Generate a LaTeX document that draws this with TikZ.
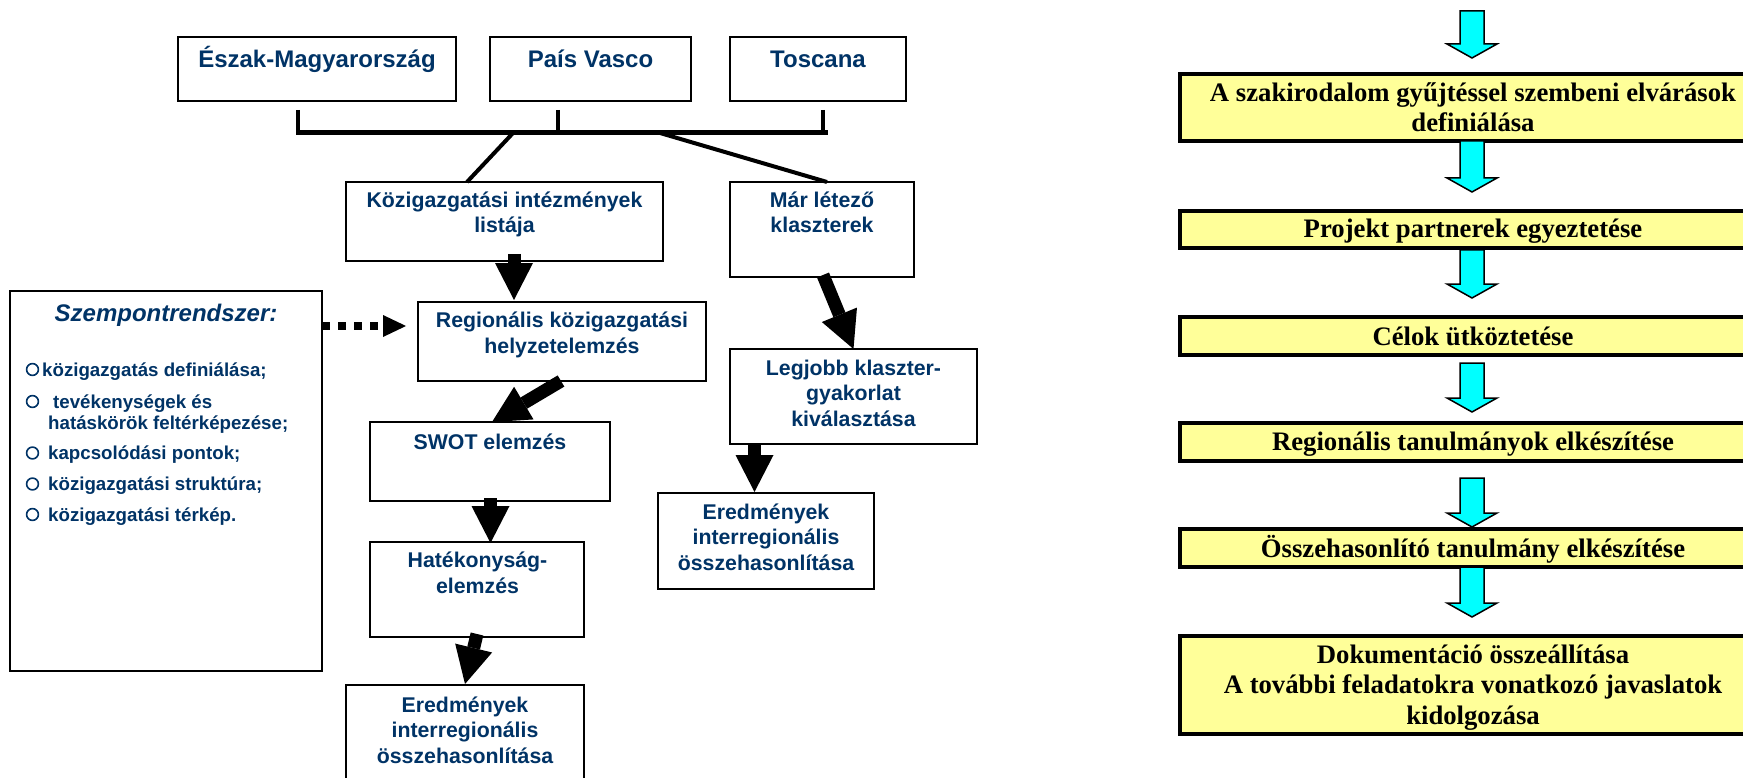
\documentclass[tikz,border=0pt]{standalone}
\usepackage{fontspec}
\setmainfont{Liberation Sans}
\newfontfamily\arialf{Liberation Sans}
\newfontfamily\timesf{Liberation Serif}
\usetikzlibrary{arrows.meta,calc}
\definecolor{navy}{RGB}{0,51,102}
\definecolor{ylw}{RGB}{255,255,153}
\definecolor{cyn}{RGB}{0,255,255}
\newcommand\mkbox[6]{%
  \pgfmathsetmacro\bw{#5-#3}\pgfmathsetmacro\bh{#6-#4}%
  \node[#1, minimum width=\bw pt, minimum height=\bh pt] (#2) at ({(#3+#5)/2},{(#4+#6)/2}) {};}
\newcommand\cyarr[2]{%
  \draw[cyarrow] let \p1=(#1), \p2=(#2) in
  (\x1-12pt,\y1) -- (\x1+12pt,\y1) -- (\x1+12pt,\y2+14pt) -- (\x1+25pt,\y2+14pt)
  -- (\x1,\y2) -- (\x1-25pt,\y2+14pt) -- (\x1-12pt,\y2+14pt) -- cycle;}
\tikzset{
  lbox/.style={rectangle, draw=black, line width=2.2pt, fill=white, inner sep=0pt, outer sep=0pt},
  rbox/.style={rectangle, draw=black, line width=3.2pt, fill=ylw, inner sep=0pt, outer sep=0pt},
  toptxt/.style={font=\arialf\bfseries\fontsize{24}{28}\selectfont, text=navy, inner sep=0pt, anchor=base},
  intxt/.style={font=\arialf\bfseries\fontsize{21.3}{25.3}\selectfont, text=navy, align=center, inner sep=0pt, anchor=base},
  ttl/.style={font=\arialf\bfseries\itshape\fontsize{24}{28}\selectfont, text=navy, inner sep=0pt, anchor=base},
  itm/.style={font=\arialf\bfseries\fontsize{18.7}{21}\selectfont, text=navy, align=left, inner sep=0pt, anchor=base west},
  bul/.style={draw=navy, line width=1.6pt},
  rtxt/.style={font=\timesf\bfseries\fontsize{26.7}{30.5}\selectfont, text=black, align=center, inner sep=0pt, anchor=base},
  blk/.style={draw=black, line width=13pt, -{Triangle[length=37pt,width=38pt,line width=0pt]}},
  dotarr/.style={draw=black, line width=8pt, dash pattern=on 7.5pt off 8.5pt, -{Triangle[length=23pt,width=22pt,line width=0pt]}},
  tickline/.style={draw=black, line width=4.5pt},
  barline/.style={draw=black, line width=5pt, line cap=rect},
  diagline/.style={draw=black, line width=4pt},
  cyarrow/.style={draw=black, line width=1.5pt, fill=cyn, line join=miter}
}
\begin{document}
\begin{tikzpicture}[x=1pt,y=-1pt]
\useasboundingbox (0,0) rectangle (1743,778);
\fill[white] (0,0) rectangle (1743,778);
\clip (0,0) rectangle (1743,778);

% ---------- left diagram boxes ----------
\mkbox{lbox}{eszak}{178}{37}{456}{101}
\mkbox{lbox}{pais}{490}{37}{691}{101}
\mkbox{lbox}{tosc}{730}{37}{906}{101}
\mkbox{lbox}{kozig}{346}{182}{663}{261}
\mkbox{lbox}{mar}{730}{182}{914}{277}
\mkbox{lbox}{szemp}{10}{291}{322}{671}
\mkbox{lbox}{reg}{418}{302}{706}{381}
\mkbox{lbox}{legj}{730}{349}{977}{444}
\mkbox{lbox}{swot}{370}{422}{610}{501}
\mkbox{lbox}{eredr}{658}{493}{874}{589}
\mkbox{lbox}{hat}{370}{542}{584}{637}
\mkbox{lbox}{eredl}{346}{685}{584}{820}

% ---------- left texts (base = last line) ----------
\node[toptxt] (t-eszak) at (317,68) {Észak-Magyarország};
\node[toptxt] (t-pais) at (590.5,68) {País Vasco};
\node[toptxt] (t-tosc) at (818,68) {Toscana};
\node[intxt] (t-kozig) at (504.5,233) {Közigazgatási intézmények\\listája};
\node[intxt] (t-mar) at (822,233) {Már létező\\klaszterek};
\node[intxt] (t-reg) at (562,353) {Regionális közigazgatási\\helyzetelemzés};
\node[intxt] (t-legj) at (853.5,426) {Legjobb klaszter-\\gyakorlat\\kiválasztása};
\node[intxt] (t-swot) at (490,449) {SWOT elemzés};
\node[intxt] (t-eredr) at (766,570) {Eredmények\\interregionális\\összehasonlítása};
\node[intxt] (t-hat) at (477.5,593) {Hatékonyság-\\elemzés};
\node[intxt] (t-eredl) at (465,763) {Eredmények\\interregionális\\összehasonlítása};

% ---------- Szempontrendszer ----------
\node[ttl] (t-szemp) at (166,321) {Szempontrendszer:};
\draw[bul] (32.5,369.5) circle[radius=5.9pt];
\draw[bul] (32.5,401.5) circle[radius=5.9pt];
\draw[bul] (32.5,453) circle[radius=5.9pt];
\draw[bul] (32.5,484) circle[radius=5.9pt];
\draw[bul] (32.5,514.5) circle[radius=5.9pt];
\node[itm] (i1) at (42,376) {közigazgatás definiálása;};
\node[itm] (i2) at (48,429) {\hspace*{5pt}tevékenységek és\\hatáskörök feltérképezése;};
\node[itm] (i3) at (48,459.5) {kapcsolódási pontok;};
\node[itm] (i4) at (48,490.5) {közigazgatási struktúra;};
\node[itm] (i5) at (48,521) {közigazgatási térkép.};

% ---------- tree lines ----------
\coordinate (barL) at (298,133);
\coordinate (barR) at (825,133);
\draw[tickline] ($(eszak.south)+(-19,9)$) -- (barL);
\draw[tickline] ($(pais.south)+(-32.5,9)$) -- ++(0,23);
\draw[tickline] ($(tosc.south)+(5,9)$) -- ++(0,23);
\draw[barline] (barL) -- (barR);
\draw[diagline] ($(barL)!0.408!(barR)$) -- ($(kozig.north)+(-37.5,0)$);
\draw[diagline] ($(barL)!0.687!(barR)$) -- ($(mar.north)+(5,0)$);

% ---------- black block arrows ----------
\draw[blk] ($(kozig.south)+(9.5,-7)$) -- ($(reg.north)+(-48,-2)$);
\draw[blk] ($(mar.south)+(1,-2)$) -- (legj.north);
\draw[blk] ($(reg.south)+(-1,0)$) -- ($(swot.north)+(2,0)$);
\draw[blk] ($(swot.south)+(0.5,-3)$) -- ($(hat.north)+(13.5,1)$);
\draw[blk] ($(hat.south)+(0,-3)$) -- ($(eredl.north)+(0,-1)$);
\draw[blk] ($(legj.south)+(-99,0)$) -- ($(eredr.north)+(-11.5,-1)$);
\draw[dotarr] ($(szemp.north east)+(0,35)$) -- ($(reg.west)+(-12,-15.5)$);

% ---------- right flow ----------
\mkbox{rbox}{b1}{1180}{74}{1766}{141}
\mkbox{rbox}{b2}{1180}{211}{1766}{248}
\mkbox{rbox}{b3}{1180}{317}{1766}{355}
\mkbox{rbox}{b4}{1180}{423}{1766}{461}
\mkbox{rbox}{b5}{1180}{529}{1766}{567}
\mkbox{rbox}{b6}{1180}{636}{1766}{734}
\node[rtxt] (r1) at (1473,132) {A szakirodalom gyűjtéssel szembeni elvárások\\definiálása};
\node[rtxt] (r2) at (1473,238) {Projekt partnerek egyeztetése};
\node[rtxt] (r3) at (1473,345) {Célok ütköztetése};
\node[rtxt] (r4) at (1473,450) {Regionális tanulmányok elkészítése};
\node[rtxt] (r5) at (1473,557) {Összehasonlító tanulmány elkészítése};
\node[rtxt] (r6) at (1473,724) {Dokumentáció összeállítása\\A további feladatokra vonatkozó javaslatok\\kidolgozása};

\coordinate (a0s) at (1472,11);
\coordinate (a0e) at (1472,58);
\cyarr{a0s}{a0e}
\cyarr{$(b1.south)+(-1,0)$}{$(b2.north)+(-1,-19)$}
\cyarr{$(b2.south)+(-1,2)$}{$(b3.north)+(-1,-19)$}
\cyarr{$(b3.south)+(-1,8)$}{$(b4.north)+(-1,-11)$}
\cyarr{$(b4.south)+(-1,17)$}{$(b5.north)+(-1,-2)$}
\cyarr{$(b5.south)+(-1,0)$}{$(b6.north)+(-1,-19)$}
\end{tikzpicture}
\end{document}
